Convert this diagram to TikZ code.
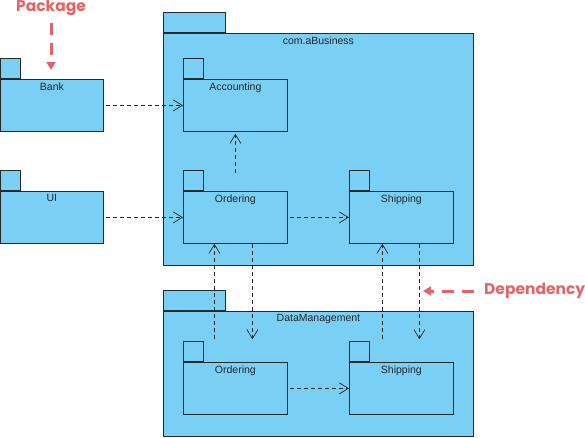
\documentclass[tikz,border=0pt]{standalone}
\usepackage{fontspec}
\setmainfont{Liberation Sans}
\newfontfamily\notefont{Poppins}
\usetikzlibrary{arrows.meta}
\definecolor{pkgblue}{RGB}{122,207,245}
\definecolor{notered}{RGB}{224,102,102}
\definecolor{pkgline}{RGB}{40,40,40}
\tikzset{
  pkgbody/.style={draw=pkgline,fill=pkgblue,line width=.8pt,inner sep=0pt},
  pkgtab/.style={draw=pkgline,fill=pkgblue,line width=.8pt,inner sep=0pt,minimum height=20pt},
  pkgname/.style={font=\fontsize{10.5}{12}\selectfont,inner sep=3.5pt,text=black!85},
  dep/.style={draw=black!85,line width=.7pt,dash pattern=on 4pt off 3pt,
    -{Straight Barb[length=9pt,width=11pt,line width=.7pt]}},
  note/.style={font=\notefont\bfseries\fontsize{15.5}{17}\selectfont,text=notered,inner sep=0pt},
  notearrow/.style={draw=notered,line width=3pt,dash pattern=on 12pt off 8pt,
    -{Triangle[length=8pt,width=9pt]}}
}
% name, x, y (top left of body), width, height, tab width, label
\newcommand{\pkg}[7]{%
  \node[pkgtab,anchor=south west,minimum width=#6pt] (#1t) at (#2,#3) {};
  \node[pkgbody,anchor=north west,minimum width=#4pt,minimum height=#5pt] (#1) at (#2,#3) {};
  \node[pkgname,anchor=north] (#1n) at (#1.north) {#7};}

\begin{document}
\begin{tikzpicture}[x=1pt,y=-1pt]
  \useasboundingbox (0,0) rectangle (585,437);
  % outer packages
  \pkg{biz}{163}{33}{310}{232}{62}{com.aBusiness}
  \pkg{dm}{163}{311}{310}{125}{62}{DataManagement}
  % left packages
  \pkg{bank}{0}{79}{103}{52}{20}{Bank}
  \pkg{ui}{0}{191}{103}{52}{20}{UI}
  % inner packages
  \pkg{acc}{183}{79}{104}{52}{20}{Accounting}
  \pkg{ord}{183}{191}{104}{52}{20}{Ordering}
  \pkg{shp}{349}{191}{104}{52}{20}{Shipping}
  \pkg{dord}{183}{362}{104}{52}{20}{Ordering}
  \pkg{dshp}{349}{362}{104}{52}{20}{Shipping}
  % dependencies
  \draw[dep,shorten <=2pt] (bank.east) -- (acc.west);
  \draw[dep,shorten <=2pt] (ui.east) -- (ord.west);
  \draw[dep,shorten <=-3pt,shorten >=2pt] (ord.north |- ordt.north) -- (acc.south);
  \draw[dep,shorten <=2pt] (ord.east) -- (shp.west);
  \draw[dep,shorten <=2pt] (dord.east) -- (dshp.west);
  \draw[dep,shorten <=2pt] ([xshift=-21pt]dord.north |- dordt.north) -- ([xshift=-21pt]ord.south);
  \draw[dep,shorten >=2pt] ([xshift=17pt]ord.south) -- ([xshift=17pt]dord.north |- dordt.north);
  \draw[dep,shorten <=2pt] ([xshift=-19pt]dshp.north |- dshpt.north) -- ([xshift=-19pt]shp.south);
  \draw[dep,shorten >=2pt] ([xshift=18pt]shp.south) -- ([xshift=18pt]dshp.north |- dshpt.north);
  % notes
  \node[note,anchor=north] (pkgnote) at (51,0) {Package};
  \coordinate (pkgtip) at (51,70);
  \draw[notearrow] ([yshift=-7pt]pkgnote.south) -- (pkgtip);
  \node[note,anchor=west] (depnote) at (484,291) {Dependency};
  \coordinate (deptip) at (423,291);
  \draw[notearrow] ([xshift=-10pt]depnote.west) -- (deptip);
\end{tikzpicture}
\end{document}
